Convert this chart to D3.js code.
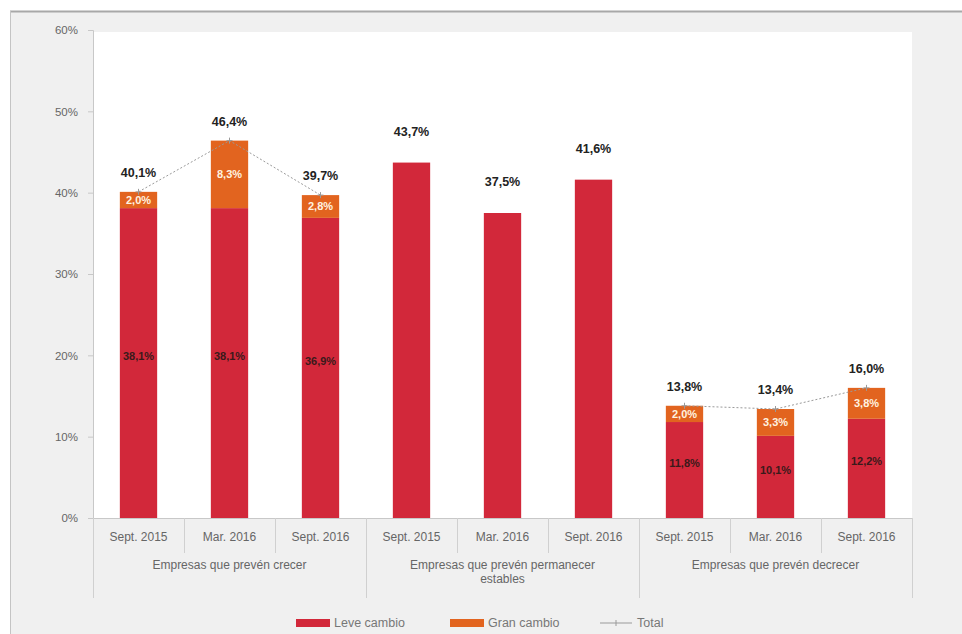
<!DOCTYPE html>
<html>
<head>
<meta charset="utf-8">
<script src="https://cdn.jsdelivr.net/npm/d3@7"></script>
<style>
  html, body { margin: 0; padding: 0; background: #ffffff; }
  svg { display: block; font-family: "Liberation Sans", Arial, sans-serif; }
</style>
</head>
<body>
<svg id="chart" width="962" height="634"></svg>
<script>
// Expectativas de las empresas: evolución por periodo
const groups = ["Empresas que prevén crecer", "Empresas que prevén permanecer estables", "Empresas que prevén decrecer"];
const periods = ["Sept. 2015", "Mar. 2016", "Sept. 2016"];
const leve = [38.1, 38.1, 36.9, 43.7, 37.5, 41.6, 11.8, 10.1, 12.2];
const gran = [2.0, 8.3, 2.8, 0, 0, 0, 2.0, 3.3, 3.8];
const total = [40.1, 46.4, 39.7, null, null, null, 13.8, 13.4, 16.0];
const yTicks = [0, 10, 20, 30, 40, 50, 60];

const colLeve = "#d2283a";
const colGran = "#e2641f";

const svg = d3.select("#chart");
const W = 962, H = 634;
const plot = { left: 93, right: 912, top: 30, bottom: 518 };

// frame background
svg.append("rect").attr("x", 0).attr("y", 0).attr("width", W).attr("height", H).attr("fill", "#ffffff");
svg.append("rect").attr("x", 10).attr("y", 11).attr("width", W - 10).attr("height", H - 11).attr("fill", "#f0f0f0");
svg.append("line").attr("x1", 10).attr("x2", W).attr("y1", 11.5).attr("y2", 11.5).attr("stroke", "#a8a8a8").attr("stroke-width", 2);
svg.append("line").attr("x1", 10.5).attr("x2", 10.5).attr("y1", 11).attr("y2", H).attr("stroke", "#c4c4c4");
svg.append("rect").attr("x", plot.left).attr("y", 32).attr("width", plot.right - plot.left).attr("height", plot.bottom - 32).attr("fill", "#ffffff");

// one band per group/period combination
const keys = d3.range(leve.length);
const x = d3.scaleBand().domain(keys).range([plot.left, plot.right]).padding(0);
const y = d3.scaleLinear().domain([0, 60]).range([plot.bottom, plot.top]);
const barW = x.bandwidth() * 0.41;
const cx = i => x(i) + x.bandwidth() / 2;
const fmt = v => d3.format(".1f")(v).replace(".", ",") + "%";

// y axis
const yAxis = d3.axisLeft(y).tickValues(yTicks).tickFormat(d => d + "%").tickSize(5).tickPadding(10);
const ya = svg.append("g").attr("transform", `translate(${plot.left},0)`).call(yAxis);
ya.select(".domain").attr("stroke", "#c8c8c8");
ya.selectAll(".tick line").attr("stroke", "#c8c8c8");
ya.selectAll(".tick text").attr("fill", "#666").attr("font-size", 11.5);

// x baseline
svg.append("line").attr("x1", plot.left).attr("x2", plot.right).attr("y1", plot.bottom + 0.5).attr("y2", plot.bottom + 0.5).attr("stroke", "#c8c8c8");

// category separators below the axis
keys.concat([keys.length]).forEach(i => {
  const xx = i === keys.length ? plot.right : x(i);
  const isGroupEdge = i % 3 === 0;
  svg.append("line")
    .attr("x1", Math.round(xx) + 0.5).attr("x2", Math.round(xx) + 0.5)
    .attr("y1", plot.bottom).attr("y2", isGroupEdge ? 598 : 553)
    .attr("stroke", "#d0d0d0");
});

// period labels
keys.forEach(i => {
  svg.append("text").attr("x", cx(i)).attr("y", 541).attr("text-anchor", "middle")
    .attr("fill", "#666").attr("font-size", 12).text(periods[i % 3]);
});

// group labels (wrapped)
const groupLines = [["Empresas que prevén crecer"], ["Empresas que prevén permanecer", "estables"], ["Empresas que prevén decrecer"]];
groups.forEach((g, gi) => {
  const gx = (x(gi * 3) + x(gi * 3 + 2) + x.bandwidth()) / 2;
  groupLines[gi].forEach((ln, li) => {
    svg.append("text").attr("x", gx).attr("y", 569 + li * 14).attr("text-anchor", "middle")
      .attr("fill", "#666").attr("font-size", 12).text(ln);
  });
});

// stacked bars
const bars = svg.append("g");
keys.forEach(i => {
  bars.append("rect").attr("x", cx(i) - barW / 2).attr("width", barW)
    .attr("y", y(leve[i])).attr("height", y(0) - y(leve[i])).attr("fill", colLeve);
  if (gran[i] > 0) {
    bars.append("rect").attr("x", cx(i) - barW / 2).attr("width", barW)
      .attr("y", y(leve[i] + gran[i])).attr("height", y(leve[i]) - y(leve[i] + gran[i])).attr("fill", colGran);
  }
});

// segment labels
keys.forEach(i => {
  if (gran[i] > 0) {
    const mid = (y(leve[i]) + y(0)) / 2 - 7;
    svg.append("text").attr("x", cx(i)).attr("y", mid).attr("dy", "0.35em").attr("text-anchor", "middle")
      .attr("fill", "#3a1a1a").attr("font-size", 11).attr("font-weight", "bold").text(fmt(leve[i]));
    const gm = (y(leve[i]) + y(leve[i] + gran[i])) / 2;
    svg.append("text").attr("x", cx(i)).attr("y", gm).attr("dy", "0.35em").attr("text-anchor", "middle")
      .attr("fill", "#fff3e0").attr("font-size", 11).attr("font-weight", "bold").text(fmt(gran[i]));
  } else {
    // bars without a second segment carry their value above
    svg.append("text").attr("x", cx(i)).attr("y", y(leve[i]) - 31).attr("dy", "0.35em").attr("text-anchor", "middle")
      .attr("fill", "#222").attr("font-size", 12.5).attr("font-weight", "bold").text(fmt(leve[i]));
  }
});

// total line
const line = d3.line().defined(i => total[i] != null).x(i => cx(i)).y(i => y(total[i]));
svg.append("path").attr("d", line(keys)).attr("fill", "none")
  .attr("stroke", "#9a9a9a").attr("stroke-width", 1).attr("stroke-dasharray", "2,2");
keys.filter(i => total[i] != null).forEach(i => {
  svg.append("line").attr("x1", cx(i) - 3).attr("x2", cx(i) + 3).attr("y1", y(total[i])).attr("y2", y(total[i]))
    .attr("stroke", "#9a9a9a");
  svg.append("line").attr("x1", cx(i)).attr("x2", cx(i)).attr("y1", y(total[i]) - 3).attr("y2", y(total[i]) + 3)
    .attr("stroke", "#9a9a9a");
  svg.append("text").attr("x", cx(i)).attr("y", y(total[i]) - 19).attr("dy", "0.35em").attr("text-anchor", "middle")
    .attr("fill", "#222").attr("font-size", 12.5).attr("font-weight", "bold").text(fmt(total[i]));
});

// legend
const lg = svg.append("g").attr("transform", "translate(0,623)");
lg.append("rect").attr("x", 296).attr("y", -4).attr("width", 34).attr("height", 8).attr("fill", colLeve);
lg.append("text").attr("x", 334).attr("y", 0).attr("dy", "0.35em").attr("fill", "#777").attr("font-size", 12.5).text("Leve cambio");
lg.append("rect").attr("x", 450).attr("y", -4).attr("width", 34).attr("height", 8).attr("fill", colGran);
lg.append("text").attr("x", 488).attr("y", 0).attr("dy", "0.35em").attr("fill", "#777").attr("font-size", 12.5).text("Gran cambio");
lg.append("line").attr("x1", 600).attr("x2", 632).attr("y1", 0).attr("y2", 0).attr("stroke", "#9a9a9a");
lg.append("line").attr("x1", 616).attr("x2", 616).attr("y1", -3).attr("y2", 3).attr("stroke", "#9a9a9a");
lg.append("text").attr("x", 637).attr("y", 0).attr("dy", "0.35em").attr("fill", "#777").attr("font-size", 12.5).text("Total");
</script>
</body>
</html>
